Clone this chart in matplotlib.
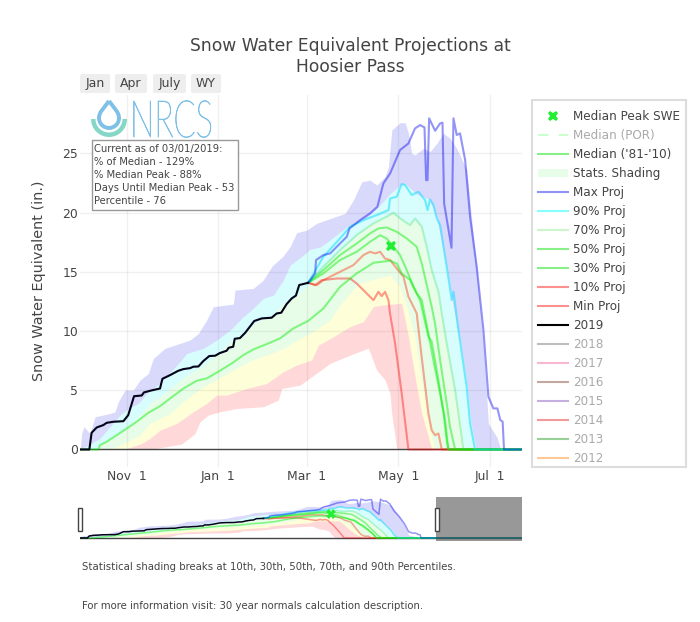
"""Snow water equivalent projection chart, Hoosier Pass."""
import matplotlib

matplotlib.use("Agg")
import matplotlib.pyplot as plt
from matplotlib.lines import Line2D
from matplotlib.patches import PathPatch, Patch, Rectangle, FancyBboxPatch, Wedge
from matplotlib.path import Path
from matplotlib.patheffects import AbstractPathEffect
from matplotlib.transforms import Affine2D

# x is the day of the water year (0 = Oct 1)
tick_days = [31, 92, 151, 212, 273]
tick_labels = ["Nov  1", "Jan  1", "Mar  1", "May  1", "Jul  1"]
y_ticks = [0, 5, 10, 15, 20, 25]
peak_day, peak_swe = 207.5, 17.2

wy2019_days = [0, 6.1, 7.6, 11, 15.4, 17.6, 22, 28.8, 32, 35.9, 41, 42.5, 47.6, 53.2, 54.8, 59.9, 65.4, 68.8, 73.2, 75.4,
               78.8, 82, 86, 90, 93, 97.6, 99, 102, 103, 106.5, 110, 116, 121, 127.6, 131, 134, 137.6, 141, 143.8, 146, 152]
wy2019_vals = [0, 0, 1.41, 1.86, 2.06, 2.25, 2.34, 2.39, 2.9, 4.5, 4.56, 4.82, 4.99, 5.15, 5.97, 6.28, 6.65, 6.79, 6.87, 6.99,
               7.01, 7.46, 7.89, 7.92, 8.14, 8.34, 8.59, 8.68, 9.35, 9.41, 9.86, 10.85, 11.07, 11.13, 11.49, 11.55, 12.28, 12.76, 13.0, 13.89, 14.08]

median_days = [0, 12.1, 13.2, 17.6, 24.3, 31, 37.6, 45.4, 53.2, 59.9, 68.8, 77.6, 84.3, 93.1, 102, 108.7, 115.4, 124.3, 133.2,
               142.1, 152.1, 162, 173.2, 184.3, 195.5, 206.6, 211, 214.3, 219.9, 226.5, 232.1, 234.3, 238.8, 242.1, 244.3, 245.4, 366]
median_vals = [0, 0, 0.37, 0.65, 1.21, 1.77, 2.34, 3.1, 3.66, 4.31, 5.15, 5.8, 6.0, 6.65, 7.35, 7.97, 8.45, 8.9, 9.38,
               10.23, 10.87, 11.9, 13.74, 14.87, 15.77, 15.94, 15.71, 14.87, 14.32, 12.63, 9.53, 9.11, 5.87, 3.19, 0.8, 0, 0]

max_days = [152, 156.6, 157.2, 162.1, 166.6, 173.2, 177.7, 179.5, 186.6, 193.2, 198.1, 202.1, 206.6, 213.2, 218.8, 223.2, 226.6,
            229.5, 230.6, 231.5, 232.6, 236.6, 239.9, 241.5, 242.6, 247.5, 248.8, 251, 253.2, 256.6, 259.9, 264.3, 268.8, 272.1,
            275.4, 278.1, 280, 281.6, 282.5, 366]
max_vals = [14.08, 14.87, 16.0, 16.42, 16.56, 17.4, 17.97, 18.67, 19.37, 19.94, 20.5, 22.47, 23.32, 25.29, 25.85, 27.12, 27.4,
            27.2, 22.75, 22.75, 27.97, 26.92, 27.54, 27.6, 20.78, 17.04, 27.97, 26.56, 26.7, 24.45, 19.66, 15.43, 10.09, 4.46,
            3.47, 3.47, 2.49, 2.35, 0, 0]

p90_days = [152, 162.1, 173.2, 179.9, 188.8, 197.7, 205.5, 206.6, 211, 214.3, 216.6, 221, 225.5, 229.9, 231.5, 233.2, 235.5,
            237.7, 239.9, 244.3, 247.7, 248.8, 252.1, 257.6, 259.9, 263.2, 366]
p90_vals = [14.08, 16.28, 17.83, 18.81, 19.37, 19.8, 20.22, 21.2, 21.35, 22.42, 22.33, 21.49, 21.77, 21.06, 20.22, 21.12, 20.64,
            19.52, 18.95, 15.43, 12.61, 13.32, 10.08, 5.3, 2.2, 0, 0]

p70_days = [152, 162.1, 173.2, 184.3, 195.5, 204.3, 208.8, 213.2, 216.6, 219.9, 223.2, 227.7, 231, 234.3, 238.8, 241, 244.3,
            249.9, 252.1, 255.4, 366]
p70_vals = [14.08, 15.43, 16.84, 18.11, 19.1, 19.66, 20, 19.52, 19.23, 18.95, 19.52, 18.81, 17.12, 15.15, 13.32, 11.5, 8.97,
            5.02, 3.05, 0, 0]

p50_days = [152, 162.1, 173.2, 184.3, 193.2, 198.8, 204.3, 211, 217.7, 224.3, 227.7, 231, 234.3, 236.5, 239.9, 244.3, 246.5, 249.9, 366]
p50_vals = [14.08, 15.15, 16.42, 17.4, 18.25, 18.67, 18.75, 18.39, 17.82, 17.12, 15.71, 13.9, 12.05, 10.66, 7.56, 3.9, 1.92, 0, 0]

p30_days = [152, 162.1, 173.2, 184.3, 193.2, 199.9, 204.3, 208.8, 213.2, 217.7, 222.1, 224.3, 227.7, 232.1, 235.4, 239.9, 243.2, 245.4, 366]
p30_vals = [14.08, 14.87, 16, 16.7, 17.54, 18.1, 17.82, 17.12, 16.42, 15.15, 13.74, 13.19, 12.61, 9.81, 7.56, 4.74, 2.49, 0, 0]

p10_days = [152, 157.7, 162.1, 168.8, 175.5, 182.1, 188.8, 193.2, 196.6, 199.9, 203.2, 206.6, 211, 215.5, 218.8, 221, 224.3,
            227.6, 232.1, 234.3, 236.5, 238.8, 241, 366]
p10_vals = [14.08, 13.88, 14.3, 14.73, 15.15, 15.57, 16.42, 16.7, 16.56, 16.7, 16.13, 16, 15.29, 14.59, 12.9, 12.35, 11.5,
            7.84, 3.05, 1.63, 1.21, 1.35, 0, 0]

min_days = [152, 156.6, 161, 171, 179.9, 184.3, 189.9, 195.5, 198.8, 201, 203.2, 205.5, 206.5, 209.9, 214.3, 218.8, 366]
min_vals = [14.08, 13.88, 14.3, 14.44, 14.44, 14.02, 13.32, 12.61, 13.32, 12.95, 13.32, 12.61, 11.5, 8.97, 4.74, 0, 0]

# statistical shading, upper edge of each band
band_max_days = [0, 1, 2.5, 6.5, 9.9, 19.9, 23.2, 25.4, 29.9, 35.4, 39.9, 45.4, 48.8, 56.5, 66.5, 73.2, 78.8, 84.3, 88.8, 102.1,
                 103.2, 115.4, 122, 128, 135, 139.9, 144.3, 151, 157.7, 168.8, 176.6, 182.1, 187.7, 193.2, 197.7, 203.2, 205.5,
                 207.7, 213.2, 216.6, 218.8, 221, 223.2, 228.8, 233.2, 237.7, 242.1, 246.6, 251, 257.7, 261, 264.3, 268.8, 272.1, 277.6, 280.5]
band_max_vals = [0, 1.35, 1.92, 1.35, 2.76, 3.04, 3.18, 4.03, 5.01, 5.01, 5.86, 6.42, 7.69, 8.54, 8.96, 9.24, 9.8, 10.93, 12.06, 12.28,
                 13.46, 13.6, 14.3, 15.5, 16.3, 17.12, 18.3, 18.53, 19.1, 19.6, 19.94, 21.06, 22.61, 22.75, 22.33, 23.04, 23.88,
                 26.98, 27.6, 27.6, 26.7, 25.01, 24.87, 25.43, 25.15, 25.85, 26.7, 26.28, 25.43, 23.6, 19.37, 15.43, 8.69, 2.2, 1.07, 0]

band_p90_days = [0, 13.2, 26.5, 32, 38.8, 45.4, 53.2, 66.5, 71, 82, 91, 99.9, 108.7, 115.4, 122, 128.8, 135.4, 139.9, 146.6, 153.2,
                 160, 165.5, 177.7, 191, 198.8, 206.6, 214, 217, 224, 233, 237.7, 244.3, 248.3, 253.2, 258, 260.5, 264]
band_p90_vals = [0, 0.93, 2.9, 3.46, 3.89, 4.87, 5.58, 7.41, 8.11, 8.54, 9.24, 10.08, 11.21, 11.92, 12.76, 13.04, 14.31, 15.57, 16.2, 16.9,
                 17.1, 17.6, 18.8, 19.6, 20.5, 21.6, 22.4, 22.4, 21.6, 21.1, 19.6, 15.43, 12.3, 9.25, 5.3, 2.2, 0]

band_p70_days = [12, 13.2, 26.5, 35.4, 41, 46.5, 53.2, 59.9, 69.9, 76.5, 82, 92, 99.9, 108.7, 117.6, 126.5, 135.4, 144.3, 152.1, 162.1,
                 173.2, 184.3, 195.5, 204.3, 208.8, 213.2, 216.6, 219.9, 223.2, 227.7, 233, 238.8, 241, 244.3, 249.9, 253, 256]
band_p70_vals = [0, 0.37, 1.49, 2.34, 3.04, 3.89, 4.45, 5.15, 6.14, 6.7, 7.13, 8.11, 9.1, 9.8, 10.79, 11.21, 12.34, 13.04, 13.89, 15.43,
                 16.84, 18.11, 19.2, 19.7, 20, 19.52, 19.23, 19.1, 19.4, 18.81, 15.6, 13.32, 11.5, 8.97, 5.02, 3.05, 0]

band_p30_days = [20, 26.5, 39.9, 46.5, 59.9, 69.9, 82, 92, 102, 114.3, 124.3, 135.4, 146.6, 153.2, 166.5, 173.2, 179.9, 185.5, 193.2,
                 206.6, 213.2, 217.7, 223.2, 228.8, 232.1, 236.5]
band_p30_vals = [0, 0.37, 1.21, 2.2, 3.04, 4.17, 5.3, 6, 6.7, 7.55, 7.97, 8.54, 9.38, 9.8, 10.93, 12.2, 13.2, 14.0, 14.3,
                 14.73, 13.74, 12.05, 9.5, 4.74, 2.2, 0]

band_p10_days = [28, 31, 41, 46.5, 53.2, 64.3, 75.4, 84.3, 91, 97.6, 111, 124.3, 135.4, 144.3, 154.3, 158.8, 168.8, 179.9, 188.8,
                 195.4, 201, 214.3, 218.8, 223.2, 227.6, 232.1, 234.3]
band_p10_vals = [0, 0.08, 0.51, 0.93, 1.63, 2.2, 3.18, 3.89, 4.59, 4.59, 5.15, 5.58, 6.56, 7.13, 7.55, 8.82, 9.52, 10.38, 10.8,
                 12.07, 12.2, 12.35, 9.53, 6.15, 3.05, 1.07, 0]

band_min_days = [46.5, 67.6, 76.5, 79.9, 85.4, 93.2, 104.3, 122, 132, 134.3, 146.6, 154.3, 166.5, 179.9, 188.8, 192.1, 197.6,
                 203.2, 206.5, 207.6, 209.9, 211]
band_min_vals = [0, 0.45, 1.35, 2.34, 2.9, 3.18, 3.46, 3.61, 4.17, 5.15, 5.44, 6.14, 7.27, 7.97, 8.4, 8.55, 6.71,
                 5.87, 4.74, 3.05, 1.08, 0]

hidden_years = ["2018", "2017", "2016", "2015", "2014", "2013", "2012"]
hidden_colors = ["#bdbdbd", "#f7b6d2", "#c4a79f", "#c5aee0", "#f09a9a", "#98d098", "#ffc896"]

GREY = "#444444"
plt.rcParams["font.family"] = ["DejaVu Sans"]
plt.rcParams["text.color"] = GREY


class Stretch(AbstractPathEffect):
    """Scale a text around a fixed device point (thin tall logo lettering)."""

    def __init__(self, sx, sy, x0, y0):
        super().__init__()
        self.sx, self.sy, self.x0, self.y0 = sx, sy, x0, y0

    def draw_path(self, renderer, gc, tpath, affine, rgbFace=None):
        aff = affine + Affine2D().translate(-self.x0, -self.y0).scale(self.sx, self.sy).translate(self.x0, self.y0)
        gc0 = renderer.new_gc()
        gc0.copy_properties(gc)
        gc0.set_foreground(rgbFace)
        gc0.set_linewidth(0.55)
        renderer.draw_path(gc0, tpath, aff, rgbFace)
        gc0.restore()


def draw_series(ax, lw, msize):
    ax.fill_between(band_max_days, band_max_vals, color="#d9d9fc", lw=0)
    ax.fill_between(band_p90_days, band_p90_vals, color="#d8fdfd", lw=0)
    ax.fill_between(band_p70_days, band_p70_vals, color="#e8fde8", lw=0)
    ax.fill_between(band_p30_days, band_p30_vals, color="#fefed8", lw=0)
    ax.fill_between(band_p10_days, band_p10_vals, color="#ffd9d9", lw=0)
    ax.fill_between(band_min_days, band_min_vals, color="white", lw=0)
    ax.axhline(0, color=GREY, lw=1, zorder=1.8)
    ax.plot(min_days, min_vals, color="#ff0000", alpha=0.4, lw=lw)
    ax.plot(p10_days, p10_vals, color="#ff2200", alpha=0.4, lw=lw)
    ax.plot(median_days, median_vals, color="#00ee00", alpha=0.45, lw=lw)
    ax.plot(p30_days, p30_vals, color="#00ee00", alpha=0.45, lw=lw)
    ax.plot(p50_days, p50_vals, color="#00ee00", alpha=0.45, lw=lw)
    ax.plot(p70_days, p70_vals, color="#00dd44", alpha=0.25, lw=lw)
    ax.plot(p90_days, p90_vals, color="#00ddff", alpha=0.5, lw=lw)
    ax.plot(max_days, max_vals, color="#0000ee", alpha=0.42, lw=lw)
    ax.plot(wy2019_days, wy2019_vals, color="#03031a", lw=lw)
    ax.plot([peak_day], [peak_swe], marker="X", ms=msize, mew=0, color="#22ee33", ls="none", zorder=5)


def px_axes(fig, left, top, right, bottom):
    return fig.add_axes([left / 700, 1 - bottom / 622, (right - left) / 700, (bottom - top) / 622])


fig = plt.figure(figsize=(7, 6.22), dpi=100)

# main plot
ax = px_axes(fig, 80.2, 95, 522, 467)
draw_series(ax, 1.5, 7.5)
ax.set_xlim(0, 294.5)
ax.set_ylim(-1.48, 29.94)
ax.set_xticks(tick_days, tick_labels)
ax.set_yticks(y_ticks)
ax.grid(True, color="black", alpha=0.06, lw=1)
ax.tick_params(length=0, labelsize=8.9, labelcolor=GREY)
ax.tick_params(axis="x", pad=2)
ax.tick_params(axis="y", pad=1.5)
ax.set_ylabel("Snow Water Equivalent (in.)", fontsize=10.4, color=GREY, labelpad=12)
for s in ax.spines.values():
    s.set_visible(False)

# range slider below the main plot
sl = px_axes(fig, 80, 497, 522, 541)
draw_series(sl, 1.1, 6.5)
sl.set_xlim(0, 366)
sl.set_ylim(-2.2, 29.5)
sl.axis("off")
sl.add_patch(Rectangle((295, -2.2), 71, 31.7, color="#444444", alpha=0.55, lw=0, zorder=6))

# overlay in pixel coordinates for buttons, logo and notes
ov = fig.add_axes([0, 0, 1, 1], zorder=10)
ov.set_xlim(0, 700)
ov.set_ylim(622, 0)
ov.axis("off")

for label, x0, x1 in [("Jan", 80, 110), ("Apr", 115, 147), ("July", 153, 186), ("WY", 191, 221)]:
    ov.add_patch(FancyBboxPatch((x0 + 2, 76), x1 - x0 - 4, 15, boxstyle="round,pad=2", fc="#eeeeee", ec="none"))
    ov.text((x0 + x1) / 2, 83.5, label, ha="center", va="center", fontsize=9)

for x0, x1 in [(77.5, 81.5), (434.5, 438.5)]:
    ov.add_patch(Rectangle((x0, 508), x1 - x0, 22.5, fc="white", ec=GREY, lw=1))

# NRCS logo
drop = Path([(109, 101), (104, 108), (99, 112), (99, 118), (99, 124), (104, 128), (109, 128),
             (114, 128), (119, 124), (119, 118), (119, 112), (114, 108), (109, 101)],
            [Path.MOVETO] + [Path.CURVE4] * 12)
ov.add_patch(PathPatch(drop, fc="white", ec="#7fc0e6", lw=2.8))
ov.add_patch(Wedge((109, 119), 18, 0, 180, width=4.5, fc="#85d8c8", ec="none"))
logo = ov.text(130, 137, "NRCS", fontsize=20, color="#7fc0e6", family=["Lato", "DejaVu Sans"],
               fontweight="light", va="baseline")
logo.set_path_effects([Stretch(1.17, 1.85, 130, 622 - 137)])

# status box
ov.add_patch(Rectangle((92, 140), 146, 70, fc="white", ec="#999999", lw=1))
status_lines = ["Current as of 03/01/2019:", "% of Median - 129%", "% Median Peak - 88%",
                "Days Until Median Peak - 53", "Percentile - 76"]
for i, line in enumerate(status_lines):
    ov.text(94.5, 149 + 13 * i, line, fontsize=7.2, va="center")

# title and notes
ov.text(350, 46, "Snow Water Equivalent Projections at", ha="center", va="center", fontsize=12.3)
ov.text(350, 67, "Hoosier Pass", ha="center", va="center", fontsize=12.3)
ov.text(82, 567, "Statistical shading breaks at 10th, 30th, 50th, 70th, and 90th Percentiles.", fontsize=7.3, va="center")
ov.text(82, 606, "For more information visit: 30 year normals calculation description.", fontsize=7.3, va="center")

# legend
ov.add_patch(Rectangle((532, 100), 154, 367, fc="white", ec="#dddddd", lw=1.5))
handles = [
    Line2D([], [], marker="X", ms=7.5, mew=0, color="#22ee33", ls="none"),
    Line2D([], [], color="#ccffcc", lw=1.5, ls=(0, (5, 5))),
    Line2D([], [], color="#88f088", lw=1.5),
    Patch(fc="#e8fde8", ec="none"),
    Line2D([], [], color="#9090f5", lw=1.5),
    Line2D([], [], color="#88ffff", lw=1.5),
    Line2D([], [], color="#ccf5cc", lw=1.5),
    Line2D([], [], color="#88f088", lw=1.5),
    Line2D([], [], color="#88f088", lw=1.5),
    Line2D([], [], color="#ff9090", lw=1.5),
    Line2D([], [], color="#ff9090", lw=1.5),
    Line2D([], [], color="black", lw=1.5),
] + [Line2D([], [], color=c, lw=1.5) for c in hidden_colors]
labels = ["Median Peak SWE", "Median (POR)", "Median ('81-'10)", "Stats. Shading", "Max Proj", "90% Proj", "70% Proj",
          "50% Proj", "30% Proj", "10% Proj", "Min Proj", "2019"] + hidden_years
leg = fig.legend(handles, labels, loc="upper left", bbox_to_anchor=(538 / 700, 1 - 110 / 622), borderaxespad=0,
                 fontsize=8.64, labelspacing=0.5, handlelength=2.5, handletextpad=0.42, borderpad=0,
                 frameon=False)
leg.set_zorder(20)
for text, label in zip(leg.get_texts(), labels):
    muted = label in hidden_years or label == "Median (POR)"
    text.set_color("#aaaaaa" if muted else GREY)

fig.savefig("out.png", dpi=100)
